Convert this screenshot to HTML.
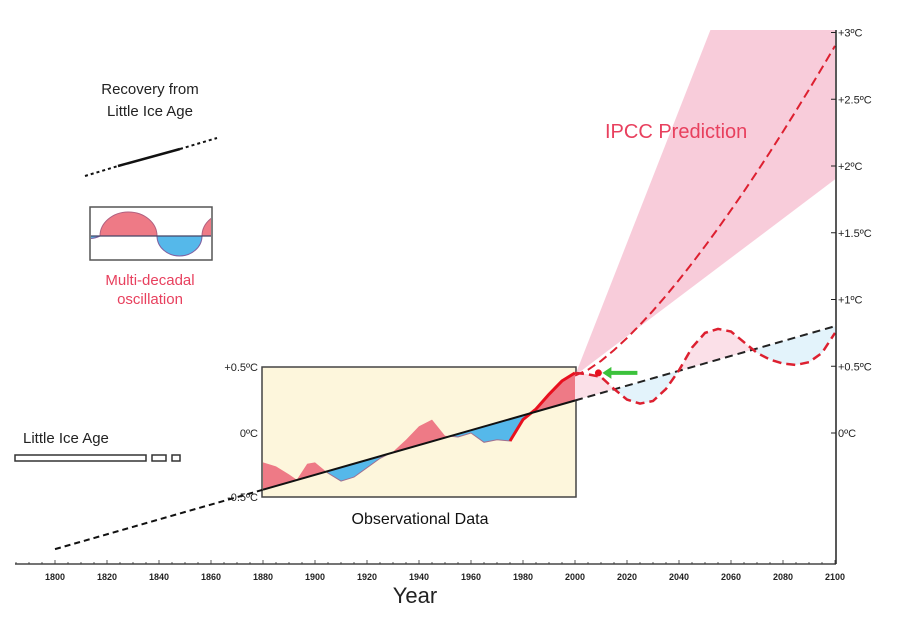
<!DOCTYPE html>
<html><head><meta charset="utf-8"><style>
html,body{margin:0;padding:0;background:#fff}
svg{display:block;font-family:"Liberation Sans",Arial,sans-serif}
</style></head><body>
<svg id="chart" width="897" height="623" viewBox="0 0 897 623">
<defs>
<clipPath id="obsAbove"><polygon id="cpA"/></clipPath>
<clipPath id="obsBelow"><polygon id="cpB"/></clipPath>
<clipPath id="oscAbove"><polygon id="cpC"/></clipPath>
<clipPath id="oscBelow"><polygon id="cpD"/></clipPath>
<clipPath id="boxClip"><rect x="91" y="208" width="120" height="51"/></clipPath>
</defs>
<g id="legend-left">
<text x="150" y="94" font-size="15" text-anchor="middle" fill="#222">Recovery from</text>
<text x="150" y="116" font-size="15" text-anchor="middle" fill="#222">Little  Ice Age</text>
<line x1="85" y1="176" x2="118" y2="166" stroke="#111" stroke-width="2" stroke-dasharray="3,3"/>
<line x1="118" y1="166" x2="180" y2="149" stroke="#111" stroke-width="2.5"/>
<line x1="180" y1="149" x2="217" y2="138" stroke="#111" stroke-width="2" stroke-dasharray="3,3"/>
<rect x="90" y="207" width="122" height="53" fill="#fff" stroke="#555" stroke-width="1.5"/>
<g clip-path="url(#boxClip)">
<path d="M100,236 A28.5,24 0 0 1 157,236 Z" fill="#ee7a86" stroke="#b06080"/>
<path d="M157,236 A22.5,20 0 0 0 202,236 Z" fill="#55b8ea" stroke="#8060a0"/>
<path d="M78,236 A22.5,20 0 0 0 100,236 Z" fill="#55b8ea" stroke="#8060a0"/>
<path d="M202,236 A28.5,24 0 0 1 259,236 Z" fill="#ee7a86" stroke="#b06080"/>
</g>
<line x1="91" y1="236" x2="211" y2="236" stroke="#446" stroke-width="1.2"/>
<text x="150" y="285" font-size="15" text-anchor="middle" fill="#e8405e">Multi-decadal</text>
<text x="150" y="304" font-size="15" text-anchor="middle" fill="#e8405e">oscillation</text>
<text x="23" y="443" font-size="15" fill="#222">Little Ice Age</text>
<rect x="15" y="455" width="131" height="6" fill="#fff" stroke="#333" stroke-width="1.5"/>
<rect x="152" y="455" width="14" height="6" fill="#fff" stroke="#333" stroke-width="1.5"/>
<rect x="172" y="455" width="8" height="6" fill="#fff" stroke="#333" stroke-width="1.5"/>
</g>
<rect x="262" y="367" width="314" height="130" fill="#fdf6dc" stroke="#444" stroke-width="1.5"/>
<g id="plot"></g>
<text x="258" y="371" font-size="11" text-anchor="end" fill="#222">+0.5ºC</text>
<text x="258" y="437" font-size="11" text-anchor="end" fill="#222">0ºC</text>
<text x="258" y="501" font-size="11" text-anchor="end" fill="#222">-0.5ºC</text>
<text x="420" y="524" font-size="16" text-anchor="middle" fill="#111">Observational Data</text>
<text x="605" y="138" font-size="20" fill="#e8405e">IPCC Prediction</text>
<text x="415" y="603" font-size="22" text-anchor="middle" fill="#222">Year</text>
</svg>
<script>
const ticksYears=[1800,1820,1840,1860,1880,1900,1920,1940,1960,1980,2000,2020,2040,2060,2080,2100];
const rightTicks=[0,0.5,1,1.5,2,2.5,3];
const rightLabels=["0ºC","+0.5ºC","+1ºC","+1.5ºC","+2ºC","+2.5ºC","+3ºC"];
const obsYears=[1880,1885,1890,1893,1897,1900,1905,1910,1915,1920,1925,1930,1935,1940,1945,1950,1955,1960,1965,1970,1975,1980,1985,1990,1995,2000];
const obsTemps=[-0.22,-0.25,-0.31,-0.35,-0.23,-0.22,-0.30,-0.36,-0.33,-0.26,-0.19,-0.14,-0.05,0.05,0.10,-0.02,-0.03,0.0,-0.07,-0.05,-0.06,0.10,0.18,0.29,0.39,0.45];
const trendYears=[1800,2100];
const trendTemps=[-0.87,0.80];
const oscYears=[2000,2005,2010,2015,2020,2025,2030,2035,2040,2045,2050,2055,2060,2065,2070,2075,2080,2085,2090,2095,2100];
const oscTemps=[0.45,0.44,0.42,0.33,0.25,0.22,0.24,0.33,0.47,0.64,0.75,0.78,0.76,0.68,0.60,0.55,0.52,0.51,0.53,0.60,0.75];
const ipccYears=[2000,2100];
const ipccCenter=[0.43,2.90];
const ipccUpper=[0.43,5.4];
const ipccLower=[0.43,1.9];

const X=y=>55+(y-1800)*2.6;
const Y=t=>433-t*133.5;
const ns="http://www.w3.org/2000/svg";
const plot=document.getElementById('plot');
function mk(tag,attrs,parent){const e=document.createElementNS(ns,tag);for(const k in attrs)e.setAttribute(k,attrs[k]);(parent||plot).appendChild(e);return e;}
const trendAt=y=>trendTemps[0]+(y-trendYears[0])*(trendTemps[1]-trendTemps[0])/(trendYears[1]-trendYears[0]);
const pts=(ys,ts)=>ys.map((y,i)=>X(y).toFixed(1)+','+Y(ts[i]).toFixed(1)).join(' ');

function clipPolys(a,b,idA,idB){
  document.getElementById(idA).setAttribute('points',`${X(a)},0 ${X(b)},0 ${X(b)},${Y(trendAt(b))} ${X(a)},${Y(trendAt(a))}`);
  document.getElementById(idB).setAttribute('points',`${X(a)},${Y(trendAt(a))} ${X(b)},${Y(trendAt(b))} ${X(b)},623 ${X(a)},623`);
}
clipPolys(1880,2000,'cpA','cpB');
clipPolys(2000,2100,'cpC','cpD');

let fan=mk('polygon',{points:`${X(ipccYears[0])},${Y(ipccUpper[0])} ${X(ipccYears[1])},${Y(ipccUpper[1])} ${X(ipccYears[1])},${Y(ipccLower[1])}`,fill:'#f7c3d3',opacity:'0.85'});


mk('rect',{x:0,y:0,width:897,height:30,fill:'#fff'});

const obsPoly=pts(obsYears,obsTemps)+` ${X(2000)},${Y(trendAt(2000))} ${X(1880)},${Y(trendAt(1880))}`;
let oa=mk('polygon',{points:obsPoly,fill:'#ee7a86','clip-path':'url(#obsAbove)'});


let ob=mk('polygon',{points:obsPoly,fill:'#55b8ea','clip-path':'url(#obsBelow)'});


mk('polyline',{points:pts(obsYears,obsTemps),fill:'none',stroke:'#a07090','stroke-width':1,'clip-path':'url(#obsBelow)'});
const ri=obsYears.indexOf(1975);
let rl=mk('polyline',{points:pts(obsYears.slice(ri),obsTemps.slice(ri)),fill:'none',stroke:'#e8101e','stroke-width':3});



const oscPoly=pts(oscYears,oscTemps)+` ${X(2100)},${Y(trendAt(2100))} ${X(2000)},${Y(trendAt(2000))}`;
mk('polygon',{points:oscPoly,fill:'#fbe0e8','clip-path':'url(#oscAbove)'});
mk('polygon',{points:oscPoly,fill:'#e3f3fb','clip-path':'url(#oscBelow)'});

let tl=mk('line',{x1:X(1880),y1:Y(trendAt(1880)),x2:X(2000),y2:Y(trendAt(2000)),stroke:'#111','stroke-width':2});


mk('line',{x1:X(1800),y1:Y(trendAt(1800)),x2:X(1880),y2:Y(trendAt(1880)),stroke:'#111','stroke-width':2,'stroke-dasharray':'6,4'});
mk('line',{x1:X(2000),y1:Y(trendAt(2000)),x2:X(2100),y2:Y(trendAt(2100)),stroke:'#222','stroke-width':2,'stroke-dasharray':'8,5'});

let oc=mk('polyline',{points:pts(oscYears,oscTemps),fill:'none',stroke:'#dd2030','stroke-width':2.5,'stroke-dasharray':'9,5'});


const cy=[];const cx=[];for(let i=0;i<=20;i++){const f=i/20;cx.push(ipccYears[0]+f*(ipccYears[1]-ipccYears[0]));cy.push(ipccCenter[0]+(ipccCenter[1]-ipccCenter[0])*Math.pow(f,1.35));}
let ic=mk('polyline',{points:pts(cx,cy),fill:'none',stroke:'#dd2030','stroke-width':2,'stroke-dasharray':'9,5'});



mk('circle',{cx:X(2009),cy:Y(0.45),r:3.5,fill:'#e8101e'});
let ar=mk('path',{d:`M${X(2024)},${Y(0.45)-2} L${X(2014)},${Y(0.45)-2} L${X(2014)},${Y(0.45)-6} L${X(2009)+4},${Y(0.45)} L${X(2014)},${Y(0.45)+6} L${X(2014)},${Y(0.45)+2} L${X(2024)},${Y(0.45)+2}Z`,fill:'#3cc23c'});



let xa=mk('line',{x1:15,y1:564,x2:836,y2:564,stroke:'#222','stroke-width':1.2});


let ya=mk('line',{x1:836,y1:30,x2:836,y2:564,stroke:'#222','stroke-width':1.5});


for(let y=1785;y<=2100;y+=5){mk('line',{x1:X(y),y1:564,x2:X(y),y2:y%20===0?560:562,stroke:'#333','stroke-width':0.8});}
ticksYears.forEach(y=>{let t=mk('text',{x:X(y),y:580,'font-size':9,'font-weight':'bold','text-anchor':'middle',fill:'#222'});t.textContent=y;

});
rightTicks.forEach((v,i)=>{mk('line',{x1:831,y1:Y(v),x2:836,y2:Y(v),stroke:'#222'});let t=mk('text',{x:838,y:Y(v)+4,'font-size':11,fill:'#222'});t.textContent=rightLabels[i];

});
</script>
</body></html>
